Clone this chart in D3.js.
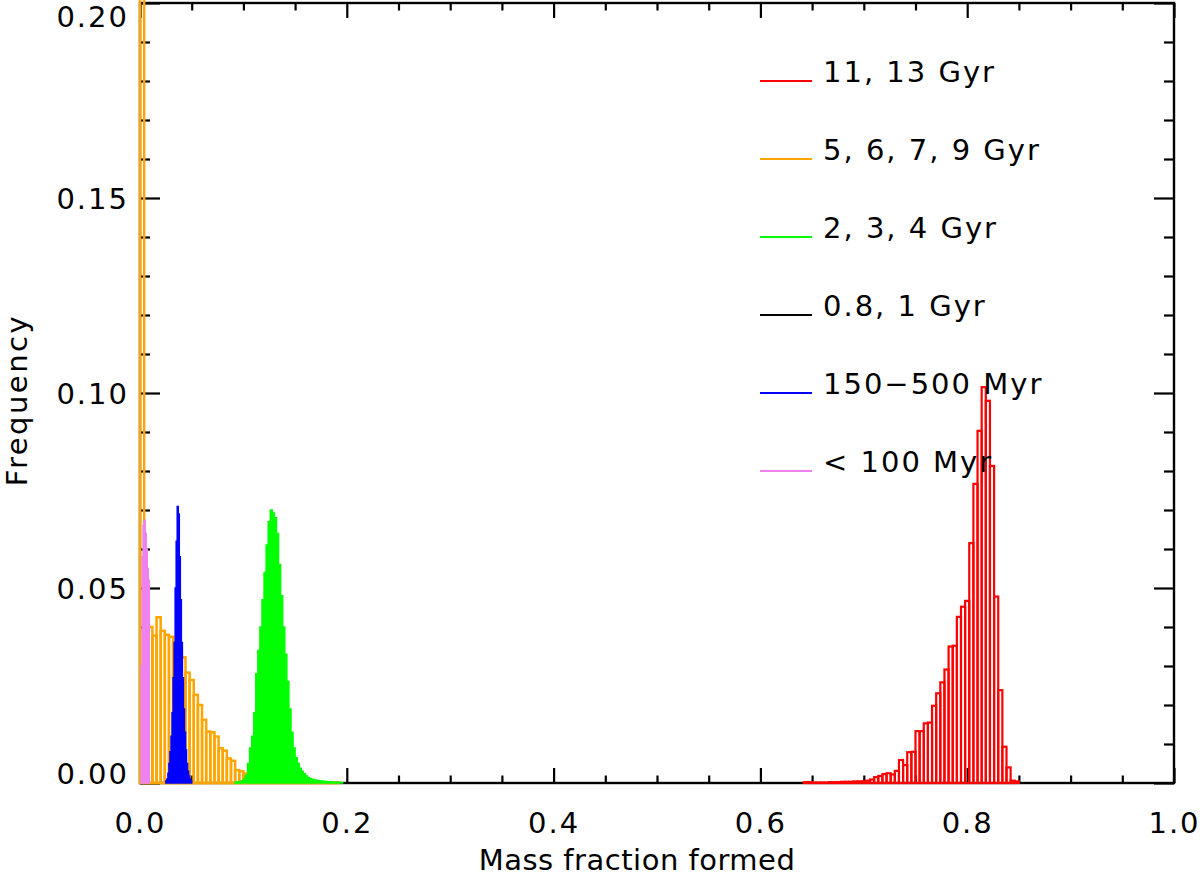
<!DOCTYPE html>
<html>
<head>
<meta charset="utf-8">
<script src="https://cdn.jsdelivr.net/npm/d3@7"></script>
<style>
  body { margin: 0; background: #fff; }
  text { font-family: "DejaVu Sans", sans-serif; fill: #000; }
</style>
</head>
<body>
<div id="chart"></div>
<script>
// histogram data: start of first bin, bin width, frequencies
const redStart = 0.642, redWidth = 0.004;
const redValues = [0.0002,0.0002,0.0001,0.0001,0.0001,0.0001,0.0002,0.0002,0.0002,0.0003,
  0.0003,0.0003,0.0004,0.0004,0.0004,0.0006,0.0009,0.0015,0.0018,0.0023,
  0.0025,0.0022,0.0031,0.0059,0.0046,0.0079,0.0080,0.0133,0.0133,0.0153,
  0.0155,0.0198,0.0230,0.0258,0.0291,0.0350,0.0352,0.0426,0.0452,0.0467,
  0.0615,0.0767,0.0903,0.1015,0.0980,0.0813,0.0478,0.0238,0.0093,0.0040,
  0.0006,0.0004];

const orangeStart = 0.0, orangeWidth = 0.004;
const orangeValues = [0.30,0.041,0.040,0.0378,0.0425,0.0390,0.0380,0.0375,0.036,0.034,
  0.0322,0.0283,0.0264,0.0226,0.0200,0.0162,0.0132,0.0130,0.0119,0.0089,
  0.0083,0.0063,0.0057,0.0033,0.0030,0.0024,0.0016,0.0012,0.0009,0.0007,
  0.0006,0.0005,0.0004,0.0004,0.0003,0.0003,0.0002,0.0002,0.0002,0.0001,
  0.0001,0.0001,0.0001,0.0001,0.0001,0.0001,0.0001,0.0001];

const greenStart = 0.092, greenWidth = 0.002;
const greenValues = [0.0002,0.0003,0.0004,0.0006,0.0010,0.0020,0.0050,0.0090,0.0120,0.0180,
  0.0280,0.0340,0.0400,0.0470,0.0540,0.0610,0.0670,0.0700,0.0692,0.0680,
  0.0640,0.0560,0.0480,0.0400,0.0330,0.0260,0.0190,0.0130,0.0090,0.0065,
  0.0050,0.0038,0.0030,0.0024,0.0018,0.0014,0.0011,0.0009,0.0008,0.0007,
  0.0006,0.0005,0.0005,0.0004,0.0004,0.0003,0.0003,0.0002,0.0002,0.0002,
  0.0001,0.0001];

const blueStart = 0.025, blueWidth = 0.001;
const blueValues = [0.0005,0.0010,0.0025,0.0050,0.0080,0.0120,0.0180,0.0270,0.0360,0.0500,
  0.0620,0.0709,0.0690,0.0580,0.0470,0.0360,0.0270,0.0190,0.0130,0.0085,
  0.0050,0.0030,0.0018,0.0010,0.0005];

const pinkStart = 0.001, pinkWidth = 0.001;
const pinkValues = [0.030,0.058,0.066,0.0674,0.064,0.060,0.055,0.052];

const legendLabels = ["11, 13  Gyr", "5, 6, 7, 9  Gyr", "2, 3, 4  Gyr", "0.8, 1  Gyr", "150\u2212500  Myr", "<  100  Myr"];
const legendColors = ["#ff0000", "#ffa500", "#00ff00", "#000000", "#0000ff", "#ee82ee"];

const xMajor = [0, 0.2, 0.4, 0.6, 0.8, 1.0];
const yMajor = [0, 0.05, 0.10, 0.15, 0.20];

const W = 1200, H = 877;
const pLeft = 140, pRight = 1174, pTop = 3, pBottom = 783;

const x = d3.scaleLinear().domain([0, 1]).range([pLeft, pRight]);
const y = d3.scaleLinear().domain([0, 0.2]).range([pBottom, pTop]);

const svg = d3.select("#chart").append("svg")
  .attr("width", W).attr("height", H);

// axes
const xMinor = d3.range(0, 1.0001, 0.05).filter(function(v) { return Math.abs(v * 5 - Math.round(v * 5)) > 1e-6; });
const yMinor = d3.range(0, 0.2001, 0.01).filter(function(v) { return Math.abs(v * 20 - Math.round(v * 20)) > 1e-6; });

function styleAxis(g) {
  g.select(".domain").remove();
  g.selectAll(".tick line").attr("stroke", "#000").attr("stroke-width", 2.2);
  g.selectAll(".tick text").attr("font-size", 29).attr("font-family", "DejaVu Sans").attr("letter-spacing", "2px");
}

svg.append("g").attr("transform", "translate(0," + pBottom + ")")
  .call(d3.axisBottom(x).tickValues(xMajor).tickSize(-15).tickPadding(29).tickFormat(d3.format(".1f")))
  .call(styleAxis);
svg.append("g").attr("transform", "translate(0," + pBottom + ")")
  .call(d3.axisBottom(x).tickValues(xMinor).tickSize(-7.5).tickFormat(""))
  .call(styleAxis);
svg.append("g").attr("transform", "translate(0," + pTop + ")")
  .call(d3.axisTop(x).tickValues(xMajor).tickSize(-15).tickFormat(""))
  .call(styleAxis);
svg.append("g").attr("transform", "translate(0," + pTop + ")")
  .call(d3.axisTop(x).tickValues(xMinor).tickSize(-7.5).tickFormat(""))
  .call(styleAxis);

const yAxisG = svg.append("g").attr("transform", "translate(" + pLeft + ",0)")
  .call(d3.axisLeft(y).tickValues(yMajor).tickSize(-20).tickPadding(11).tickFormat(d3.format(".2f")))
  .call(styleAxis);
// keep end labels inside the frame, like the original
yAxisG.selectAll(".tick text")
  .attr("dy", function(d) { return d === 0.2 ? "0.8em" : (d === 0 ? "0em" : "0.36em"); });

svg.append("g").attr("transform", "translate(" + pLeft + ",0)")
  .call(d3.axisLeft(y).tickValues(yMinor).tickSize(-10).tickFormat(""))
  .call(styleAxis);
svg.append("g").attr("transform", "translate(" + pRight + ",0)")
  .call(d3.axisRight(y).tickValues(yMajor).tickSize(-20).tickFormat(""))
  .call(styleAxis);
svg.append("g").attr("transform", "translate(" + pRight + ",0)")
  .call(d3.axisRight(y).tickValues(yMinor).tickSize(-10).tickFormat(""))
  .call(styleAxis);

// frame
svg.append("rect")
  .attr("x", pLeft).attr("y", pTop)
  .attr("width", pRight - pLeft).attr("height", pBottom - pTop)
  .attr("fill", "none").attr("stroke", "#000").attr("stroke-width", 2.4);

// histograms are drawn over the frame, as in the original
svg.append("clipPath").attr("id", "plotclip")
  .append("rect")
  .attr("x", pLeft - 2).attr("y", 0)
  .attr("width", pRight - pLeft + 4).attr("height", pBottom + 2);

const plot = svg.append("g").attr("clip-path", "url(#plotclip)");

function bins(start, width, values) {
  return values.map(function(v, i) { return { x0: start + i * width, x1: start + (i + 1) * width, v: v }; });
}

// outlined histograms
function outlined(data, color, sw) {
  plot.append("g").selectAll("rect")
    .data(data)
    .enter().append("rect")
    .attr("x", function(d) { return x(d.x0); })
    .attr("y", function(d) { return y(d.v); })
    .attr("width", function(d) { return x(d.x1) - x(d.x0); })
    .attr("height", function(d) { return y(0) - y(d.v); })
    .attr("fill", "none")
    .attr("stroke", color)
    .attr("stroke-width", sw);
}

// filled histograms
function filled(data, color) {
  const pts = data.map(function(d) { return [d.x0, d.v]; });
  pts.push([data[data.length - 1].x1, data[data.length - 1].v]);
  const area = d3.area()
    .x(function(d) { return x(d[0]); })
    .y0(y(0))
    .y1(function(d) { return y(d[1]); })
    .curve(d3.curveStepAfter);
  plot.append("path")
    .datum(pts)
    .attr("d", area)
    .attr("fill", color)
    .attr("stroke", color)
    .attr("stroke-width", 1.5);
}

outlined(bins(redStart, redWidth, redValues), "#ff0000", 2.2);
outlined(bins(orangeStart, orangeWidth, orangeValues), "#ffa500", 2.5);
filled(bins(greenStart, greenWidth, greenValues), "#00ff00");
filled(bins(blueStart, blueWidth, blueValues), "#0000ff");
filled(bins(pinkStart, pinkWidth, pinkValues), "#ee82ee");

// axis titles
svg.append("text")
  .attr("x", 637).attr("y", 870)
  .attr("text-anchor", "middle")
  .attr("font-size", 29)
  .attr("letter-spacing", "0.5px")
  .text("Mass fraction formed");

svg.append("text")
  .attr("transform", "translate(27,400) rotate(-90)")
  .attr("text-anchor", "middle")
  .attr("font-size", 29)
  .attr("letter-spacing", "2.5px")
  .text("Frequency");

// legend
const legend = svg.append("g");
const leg = legend.selectAll("g")
  .data(legendLabels)
  .enter().append("g")
  .attr("transform", function(d, i) { return "translate(760," + (81 + i * 78) + ")"; });
leg.append("line")
  .attr("x1", 0).attr("x2", 52)
  .attr("stroke", function(d, i) { return legendColors[i]; })
  .attr("stroke-width", 2);
leg.append("text")
  .attr("x", 63).attr("y", 1)
  .attr("font-size", 29)
  .attr("letter-spacing", "2px")
  .text(function(d) { return d; });
</script>
</body>
</html>
